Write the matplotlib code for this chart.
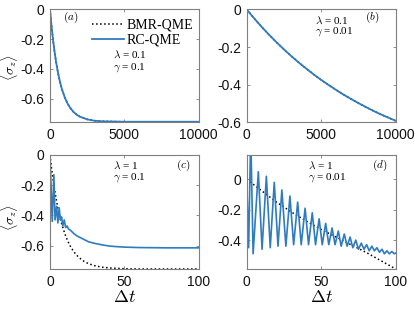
import matplotlib
matplotlib.use("Agg")
import matplotlib.pyplot as plt

plt.rcParams['axes.unicode_minus'] = False
plt.rcParams['font.family'] = ['Liberation Sans', 'DejaVu Sans']
plt.rcParams['mathtext.fontset'] = 'cm'

# ---------------- data ----------------
# panel (a): lambda=0.1, gamma=0.1
t_a = [0, 100, 200, 300, 400, 500, 600, 700, 800, 1000, 1200, 1400, 1600, 1800,
       2000, 2500, 3000, 3500, 4000, 5000, 6000, 8000, 10000]
bmr_a = [0, -0.108, -0.200, -0.279, -0.347, -0.405, -0.455, -0.498, -0.535, -0.593,
         -0.636, -0.667, -0.691, -0.708, -0.720, -0.739, -0.748, -0.752, -0.753,
         -0.755, -0.755, -0.755, -0.755]
rc_a = [0, -0.108, -0.200, -0.279, -0.347, -0.405, -0.455, -0.498, -0.535, -0.593,
        -0.636, -0.667, -0.691, -0.708, -0.720, -0.739, -0.748, -0.752, -0.753,
        -0.755, -0.755, -0.755, -0.755]

# panel (b): lambda=0.1, gamma=0.01
t_b = [0, 500, 1000, 1500, 2000, 2500, 3000, 3500, 4000, 4500, 5000, 5500, 6000,
       6500, 7000, 7500, 8000, 8500, 9000, 9500, 10000]
bmr_b = [0, -0.047, -0.092, -0.134, -0.174, -0.212, -0.248, -0.282, -0.314, -0.345,
         -0.374, -0.401, -0.427, -0.452, -0.475, -0.497, -0.518, -0.538, -0.557,
         -0.574, -0.591]
rc_b = [0, -0.047, -0.092, -0.134, -0.174, -0.212, -0.248, -0.282, -0.314, -0.345,
        -0.374, -0.401, -0.427, -0.452, -0.475, -0.497, -0.518, -0.538, -0.557,
        -0.574, -0.591]

# panel (c): lambda=1, gamma=0.1
t_c_bmr = [0, 1, 2, 3, 4, 5, 6, 7, 8, 10, 12, 14, 16, 18, 20, 23, 26, 30, 35, 40,
           50, 60, 80, 100]
bmr_c = [0, -0.084, -0.158, -0.225, -0.283, -0.336, -0.382, -0.424, -0.460, -0.522,
         -0.571, -0.610, -0.640, -0.664, -0.683, -0.705, -0.720, -0.733, -0.743,
         -0.748, -0.753, -0.755, -0.755, -0.755]
t_c_rc = [0, 1.5, 2.6, 3.4, 4.5, 5.3, 6.2, 7.0, 7.8, 8.6, 9.6, 10.5, 11.5, 12.5, 14,
          16, 18, 20, 23, 26, 30, 35, 40, 45, 50, 60, 70, 80, 100]
rc_c = [0, -0.44, -0.13, -0.43, -0.34, -0.45, -0.35, -0.43, -0.41, -0.47, -0.43,
        -0.48, -0.47, -0.49, -0.50, -0.52, -0.535, -0.545, -0.56, -0.575, -0.585,
        -0.595, -0.603, -0.607, -0.610, -0.613, -0.614, -0.615, -0.615]

# panel (d): lambda=1, gamma=0.01
t_d_bmr = [0, 10, 20, 30, 40, 50, 60, 70, 80, 90, 100]
bmr_d = [0, -0.075, -0.150, -0.215, -0.275, -0.330, -0.380, -0.430, -0.480, -0.535,
         -0.590]
t_d_rc = [0, 1.3, 2.7, 4.3, 7.8, 10.3, 13.2, 15.8, 18.5, 21.0, 23.6, 26.3, 29.0, 31.5,
          34.2, 36.6, 39.2, 41.5, 44.0, 46.2, 48.6, 50.7, 53.0, 55.1, 57.3, 59.3,
          61.5, 63.4, 65.5, 67.4, 69.4, 71.2, 73.2, 75.0, 76.9, 78.7, 80.5, 82.2,
          84.0, 85.7, 87.4, 89.1, 90.8, 92.4, 94.1, 95.7, 97.4, 99.0, 100]
rc_d = [0, -0.45, 0.30, -0.49, 0.05, -0.46, 0.02, -0.45, -0.02, -0.44, -0.07, -0.44,
        -0.11, -0.43, -0.15, -0.43, -0.19, -0.43, -0.22, -0.43, -0.26, -0.43, -0.29,
        -0.43, -0.32, -0.43, -0.34, -0.44, -0.36, -0.44, -0.38, -0.45, -0.40, -0.46,
        -0.42, -0.46, -0.43, -0.47, -0.44, -0.47, -0.45, -0.48, -0.46, -0.49, -0.47,
        -0.49, -0.475, -0.49, -0.485]

xticks_top = [0, 5000, 10000]
xticks_bot = [0, 50, 100]
yticks_4 = [0, -0.2, -0.4, -0.6]
yticks_3 = [0, -0.2, -0.4]

labels_ab = ['(a)', '(b)', '(c)', '(d)']
params = [(r'$\lambda$ = 0.1', r'$\gamma$ = 0.1'),
          (r'$\lambda$ = 0.1', r'$\gamma$ = 0.01'),
          (r'$\lambda$ = 1', r'$\gamma$ = 0.1'),
          (r'$\lambda$ = 1', r'$\gamma$ = 0.01')]

# ---------------- figure ----------------
W, H = 415, 312
fig = plt.figure(figsize=(W / 100, H / 100), dpi=100)

def ax_at(l, t, r, b):
    return fig.add_axes([l / W, 1 - b / H, (r - l) / W, (b - t) / H])

axs = [ax_at(50, 9.5, 198.5, 122.5), ax_at(246.7, 9.5, 395.7, 122.5),
       ax_at(50, 155, 198.5, 269), ax_at(246.7, 155, 395.7, 269)]

blue = '#2f7bbf'
edge = '#7f7f7f'

def style(ax, xt, yt, xlim, ylim):
    ax.set_xlim(*xlim)
    ax.set_ylim(*ylim)
    ax.set_xticks(xt)
    ax.set_yticks(yt)
    ax.set_xticklabels([str(v) for v in xt])
    ax.set_yticklabels(['0' if v == 0 else ('%g' % v) for v in yt])
    ax.tick_params(direction='in', length=2.5, width=0.6, color=edge,
                   top=True, right=True, labelsize=10, pad=4, labelcolor='#111111')
    for s in ax.spines.values():
        s.set_color(edge)
        s.set_linewidth(0.8)

ax = axs[0]
ax.plot(t_a, bmr_a, ':', color='black', lw=1.1, label='BMR-QME')
ax.plot(t_a, rc_a, '-', color=blue, lw=1.3, label='RC-QME')
style(ax, xticks_top, yticks_4, (0, 10000), (-0.76, 0))
ax.legend(loc='upper right', bbox_to_anchor=(1.02, 0.99), frameon=False,
          prop={'family': 'Liberation Serif', 'size': 10}, handlelength=2.3,
          handletextpad=0.2, labelspacing=0.12, borderpad=0.1)

ax = axs[1]
ax.plot(t_b, bmr_b, ':', color='black', lw=1.1)
ax.plot(t_b, rc_b, '-', color=blue, lw=1.3)
style(ax, xticks_top, yticks_4, (0, 10000), (-0.6, 0))

ax = axs[2]
ax.plot(t_c_bmr, bmr_c, ':', color='black', lw=1.1)
ax.plot(t_c_rc, rc_c, '-', color=blue, lw=1.2)
style(ax, xticks_bot, yticks_4, (0, 100), (-0.755, 0))

ax = axs[3]
ax.plot(t_d_bmr, bmr_d, ':', color='black', lw=1.1)
ax.plot(t_d_rc, rc_d, '-', color=blue, lw=1.2)
style(ax, xticks_bot, yticks_3, (0, 100), (-0.59, 0.16))

# annotations
par_pos = [(0.424, 0.600, 0.490), (0.458, 0.907, 0.809),
           (0.424, 0.912, 0.798), (0.412, 0.912, 0.798)]
lab_pos = [(0.141, 0.933), (0.84, 0.933), (0.896, 0.912), (0.894, 0.912)]
for i, ax in enumerate(axs):
    x, y1, y2 = par_pos[i]
    ax.text(x, y1, params[i][0], transform=ax.transAxes, fontsize=8,
            family='Liberation Serif', ha='left', va='center')
    ax.text(x, y2, params[i][1], transform=ax.transAxes, fontsize=8,
            family='Liberation Serif', ha='left', va='center')
    lx, ly = lab_pos[i]
    ax.text(lx, ly, '$' + labels_ab[i] + '$', transform=ax.transAxes, fontsize=8,
            ha='center', va='center')

for ax in axs[2:]:
    ax.set_xlabel(r'$\Delta t$', fontsize=13, labelpad=0)

fig.text(9.5 / W, 1 - 67 / H, r'$\langle\sigma_z\rangle$', rotation=90, fontsize=10,
         ha='center', va='center')
fig.text(9.5 / W, 1 - 217 / H, r'$\langle\sigma_z\rangle$', rotation=90, fontsize=10,
         ha='center', va='center')

fig.savefig('out.png', dpi=100)
